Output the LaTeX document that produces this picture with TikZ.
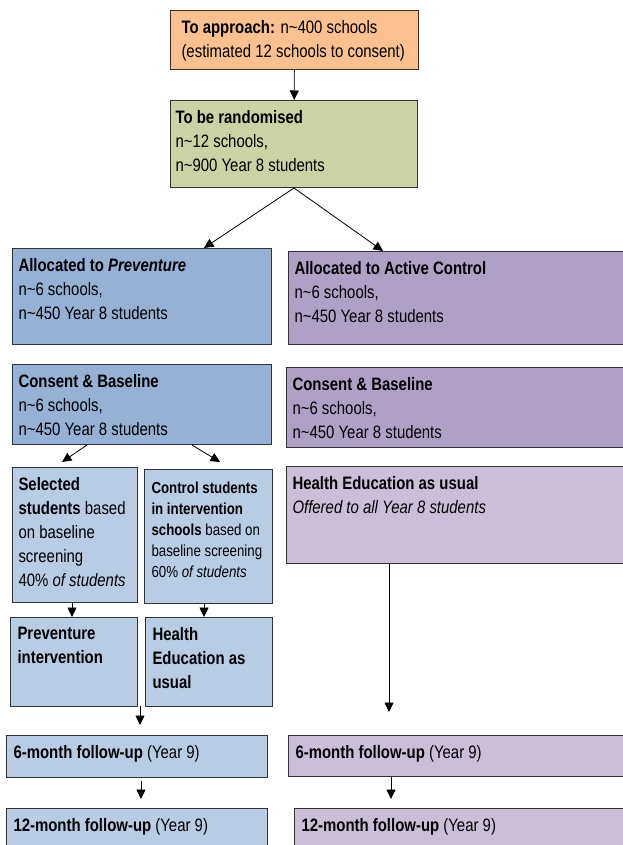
\documentclass[tikz,border=0pt]{standalone}
\usepackage{fontspec}
\setmainfont[FakeStretch=0.83]{Liberation Sans}
\usepackage{xcolor}
\usetikzlibrary{arrows.meta}
\definecolor{apprfill}{HTML}{FAC090}
\definecolor{randfill}{HTML}{CBD2A4}
\definecolor{bluedark}{HTML}{95B1D5}
\definecolor{bluelight}{HTML}{B8CCE4}
\definecolor{purpdark}{HTML}{B1A0C6}
\definecolor{purplight}{HTML}{CBBFD8}
\newcommand{\boxtext}[3]{\parbox[t][#2pt][t]{#1pt}{\raggedright #3}}
\newcommand{\nn}{n\textasciitilde}

\begin{document}
\begin{tikzpicture}[x=1pt, y=-1pt,
    box/.style = {draw=black!80, line width=1pt, anchor=north west, inner xsep=6pt, inner ysep=10pt, font=\fontsize{18}{24}\selectfont},
    arr/.style = {-{Triangle[length=9.5pt, width=9pt]}, line width=0.8pt}]
      \useasboundingbox (0,0) rectangle (622,845);

      \node[box, fill=apprfill, inner xsep=11pt] (appr) at (170,10) {\boxtext{226}{39}{\textbf{To approach:} \nn400 schools\\(estimated 12 schools to consent)}};
      \node[box, fill=randfill, inner xsep=5pt] (rand) at (170,100) {\boxtext{237}{67}{\textbf{To be randomised}\\\nn12 schools,\\\nn900 Year 8 students}};

      \node[box, fill=bluedark] (allocP) at (12,248) {\boxtext{247}{76}{\textbf{Allocated to \textit{Preventure}}\\\nn6 schools,\\\nn450 Year 8 students}};
      \node[box, fill=purpdark] (allocA) at (288,251) {\boxtext{323}{73}{\textbf{Allocated to Active Control}\\\nn6 schools,\\\nn450 Year 8 students}};
      \node[box, fill=bluedark] (consP) at (12,364) {\boxtext{247}{60}{\textbf{Consent \& Baseline}\\\nn6 schools,\\\nn450 Year 8 students}};
      \node[box, fill=purpdark] (consA) at (286,367) {\boxtext{325}{60}{\textbf{Consent \& Baseline}\\\nn6 schools,\\\nn450 Year 8 students}};

      \node[box, fill=bluelight] (sel) at (12,467) {\boxtext{113}{115}{\textbf{Selected}\\\textbf{students} based\\on baseline\\screening\\40\% \textit{of students}}};
      \node[box, fill=bluelight, inner xsep=7pt, inner ysep=12pt, font=\fontsize{16}{21}\selectfont] (ctrl) at (144,469) {\boxtext{114}{110}{\textbf{Control students}\\\textbf{in intervention}\\\textbf{schools} based on\\baseline screening\\60\% \textit{of students}}};
      \node[box, fill=purplight] (hedA) at (286,466) {\boxtext{325}{77}{\textbf{Health Education as usual}\\\textit{Offered to all Year 8 students}}};

      \node[box, fill=bluelight, inner xsep=7pt] (prevI) at (10,617) {\boxtext{113}{69}{\textbf{Preventure}\\\textbf{intervention}}};
      \node[box, fill=bluelight, inner xsep=7pt] (hedP) at (145,617) {\boxtext{113}{69}{\textbf{Health}\\\textbf{Education as}\\\textbf{usual}}};

      \node[box, fill=bluelight, inner xsep=7pt] (fu6P) at (6,735) {\boxtext{247}{22}{\textbf{6-month follow-up} (Year 9)}};
      \node[box, fill=purplight, inner xsep=7pt] (fu6A) at (288,735) {\boxtext{321}{21}{\textbf{6-month follow-up} (Year 9)}};
      \node[box, fill=bluelight, inner xsep=7pt] (fu12P) at (6,808) {\boxtext{247}{32}{\textbf{12-month follow-up} (Year 9)}};
      \node[box, fill=purplight, inner xsep=7pt] (fu12A) at (294,808) {\boxtext{315}{32}{\textbf{12-month follow-up} (Year 9)}};

      \coordinate (merge) at (140,706);

      \draw[arr] (appr) -- (rand);
      \draw[arr] (rand.south) -- ([xshift=-68pt]allocP.north east);
      \draw[arr] (rand.south) -- ([xshift=95pt]allocA.north west);
      \draw[arr] ([xshift=75pt]consP.south west) -- ([xshift=50pt, yshift=5pt]sel.north west);
      \draw[arr] ([xshift=180pt]consP.south west) -- ([xshift=76pt, yshift=7pt]ctrl.north west);
      \draw[arr] ([xshift=60pt]sel.south west) -- ([xshift=62pt]prevI.north west);
      \draw[arr] ([xshift=60pt]ctrl.south west) -- ([xshift=59pt]hedP.north west);
      \draw[arr, shorten >=10pt] (merge) -- (merge |- fu6P.north);
      \draw[arr, shorten >=23pt] ([xshift=103pt]hedA.south west) -- ([xshift=101pt]fu6A.north west);
      \draw[arr, shorten <=3pt, shorten >=9pt] ([xshift=135pt]fu6P.south west) -- ([xshift=135pt]fu12P.north west);
      \draw[arr, shorten >=9pt] ([xshift=103pt]fu6A.south west) -- ([xshift=97pt]fu12A.north west);
    \end{tikzpicture}
\end{document}
